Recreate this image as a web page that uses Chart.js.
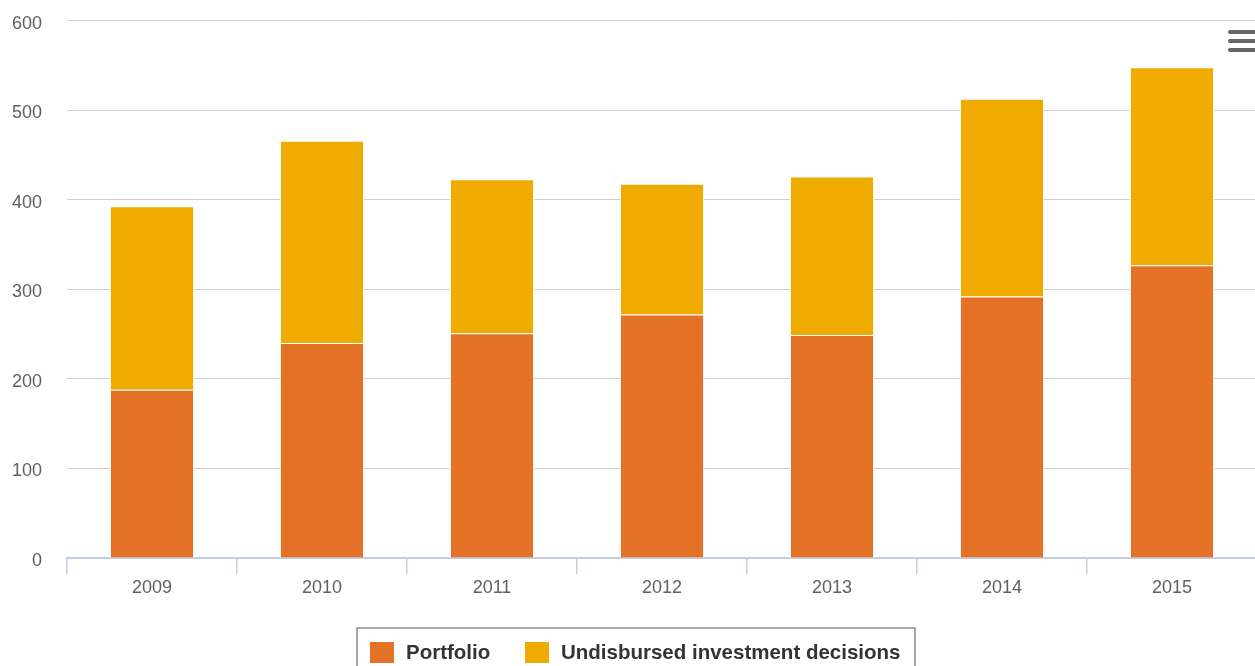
<!DOCTYPE html>
<html>
<head>
<meta charset="utf-8">
<script src="https://cdn.jsdelivr.net/npm/chart.js@4"></script>
<style>
  html, body { margin: 0; padding: 0; background: #fff; overflow: hidden; width: 1255px; height: 666px; }
  #wrap { position: absolute; left: 0; top: -15px; width: 1262px; height: 681px; }
  #menu { position: absolute; left: 1228px; top: 30px; width: 30px; }
  #menu div { height: 4px; background: #666; border-radius: 2px; margin-bottom: 5px; }
  #legend { position: absolute; left: 356px; top: 627px; width: 556px; height: 60px; border: 2px solid #a8a8a8;
            font-family: "Liberation Sans", Arial, sans-serif; font-weight: bold; font-size: 20.5px; color: #333; }
  .item { position: absolute; top: 12px; height: 22px; line-height: 22px; white-space: nowrap; }
  .sw { position: absolute; top: 1px; width: 24px; height: 21px; }
  .lbl { position: absolute; top: 0px; }
</style>
</head>
<body>
<div id="wrap"><canvas id="c"></canvas></div>
<div id="menu"><div></div><div></div><div></div></div>
<div id="legend"></div>
<script>
const categories = ["2009", "2010", "2011", "2012", "2013", "2014", "2015"];
const portfolio = [188, 240, 251, 272, 249, 292, 327];
const undisbursed = [205, 226, 172, 146, 177, 221, 221];
const seriesNames = ["Portfolio", "Undisbursed investment decisions"];
const seriesColors = ["#e37226", "#efab00"];
const yTicks = [0, 100, 200, 300, 400, 500, 600];

const font = "'Liberation Sans', Arial, sans-serif";

new Chart(document.getElementById('c'), {
  type: 'bar',
  data: {
    labels: categories,
    datasets: [
      { label: seriesNames[0], data: portfolio, backgroundColor: seriesColors[0], borderColor: '#ffffff', borderWidth: 1 },
      { label: seriesNames[1], data: undisbursed, backgroundColor: seriesColors[1], borderColor: '#ffffff', borderWidth: 1 }
    ]
  },
  options: {
    responsive: true,
    maintainAspectRatio: false,
    animation: false,
    layout: { padding: { left: 0, right: 5, top: 5, bottom: 0 } },
    datasets: { bar: { categoryPercentage: 1, barPercentage: 0.495 } },
    plugins: { legend: { display: false }, tooltip: { enabled: false } },
    scales: {
      x: {
        stacked: true,
        offset: true,
        grid: { display: true, drawOnChartArea: false, drawTicks: true, tickLength: 16, color: '#c0d0e0', lineWidth: 1.5, offset: true },
        border: { display: true, color: '#c0d0e0', width: 2 },
        ticks: { color: '#606060', font: { family: font, size: 18 }, padding: 3, maxRotation: 0 },
        afterFit: s => { s.height = 108; }
      },
      y: {
        stacked: true,
        min: 0, max: 600,
        afterBuildTicks: s => { s.ticks = yTicks.map(v => ({ value: v })); },
        grid: { color: '#d0d0d0', lineWidth: 1, drawTicks: false },
        border: { display: false },
        ticks: { color: '#606060', font: { family: font, size: 18 }, padding: 25, labelOffset: 3 },
        afterFit: s => { s.width = 67; }
      }
    }
  }
});

// HTML legend
const leg = document.getElementById('legend');
const pos = [{ sw: 12, tx: 48 }, { sw: 167, tx: 203 }];
seriesNames.forEach((n, i) => {
  const it = document.createElement('div');
  it.className = 'item';
  it.style.left = '0px';
  it.innerHTML = '<div class="sw" style="left:' + pos[i].sw + 'px;background:' + seriesColors[i] + '"></div>' +
                 '<div class="lbl" style="left:' + pos[i].tx + 'px">' + n + '</div>';
  leg.appendChild(it);
});
</script>
</body>
</html>
